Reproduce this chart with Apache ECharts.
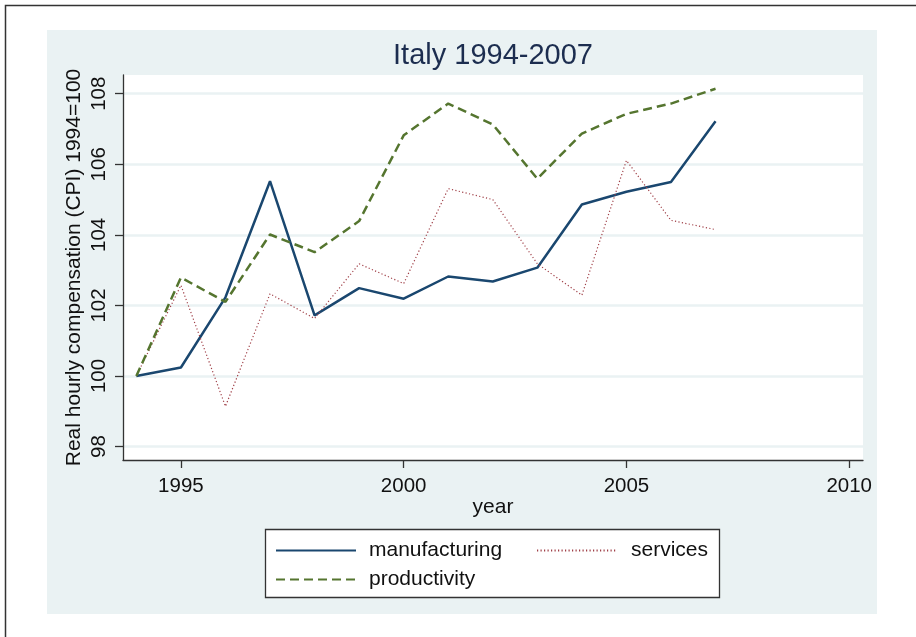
<!DOCTYPE html>
<html>
<head>
<meta charset="utf-8">
<script src="https://cdn.jsdelivr.net/npm/echarts@6/dist/echarts.min.js"></script>
<style>
html,body{margin:0;padding:0;background:#fff;}
#chart{width:916px;height:637px;}
</style>
</head>
<body>
<div id="chart"></div>
<script>
const years = [1994,1995,1996,1997,1998,1999,2000,2001,2002,2003,2004,2005,2006,2007];
const manufacturing = [100,100.24,102.23,105.52,101.72,102.49,102.19,102.82,102.68,103.07,104.86,105.22,105.50,107.22];
const services = [100,102.57,99.14,102.33,101.63,103.18,102.62,105.31,105.00,103.18,102.29,106.11,104.41,104.15];
const productivity = [100,102.79,102.10,104.01,103.51,104.39,106.82,107.72,107.13,105.59,106.87,107.43,107.72,108.14];
const xTicks = [1995,2000,2005,2010];
const yTicks = [98,100,102,104,106,108];

const FONT = '"Liberation Sans", Arial, sans-serif';
const pairs = v => years.map((y,i)=>[y, v[i]]);

const chart = echarts.init(document.getElementById('chart'), null, {renderer:'canvas'});
chart.setOption({
  animation:false,
  backgroundColor:'#ffffff',
  graphic:[
    {type:'rect', z:-10, shape:{x:5.5,y:5.5,width:1200,height:1200}, style:{fill:'#ffffff', stroke:'#333333', lineWidth:1.5}},
    {type:'rect', z:-9, shape:{x:47,y:30,width:830,height:584}, style:{fill:'#eaf2f3'}},
    {type:'text', z:10, x:493, y:56, style:{text:'Italy 1994-2007', fill:'#1c2d4f', font:'29px '+FONT, textAlign:'center', textVerticalAlign:'middle'}},
    {type:'rect', z:5, shape:{x:265.5,y:529.5,width:454,height:68}, style:{fill:'#ffffff', stroke:'#333333', lineWidth:1.3}}
  ],
  grid:{left:123, right:53, top:75, bottom:177, show:true, backgroundColor:'#ffffff', borderWidth:0},
  xAxis:{
    type:'value', min:1993.70, max:2010.31,
    name:'year', nameLocation:'middle', nameGap:37, nameMoveOverlap:false,
    nameTextStyle:{fontFamily:FONT, fontSize:21, color:'#111'},
    axisLine:{show:true, lineStyle:{color:'#333', width:1.3}},
    axisTick:{show:true, length:8, lineStyle:{color:'#333', width:1.3}, customValues:xTicks},
    axisLabel:{fontFamily:FONT, fontSize:20.5, color:'#111', margin:16, customValues:xTicks, formatter:v=>String(v)},
    splitLine:{show:false}
  },
  yAxis:{
    type:'value', min:97.62, max:108.53,
    name:'Real hourly compensation (CPI) 1994=100', nameLocation:'middle', nameGap:38, nameRotate:90, nameMoveOverlap:false,
    nameTextStyle:{fontFamily:FONT, fontSize:21, color:'#111'},
    axisLine:{show:true, lineStyle:{color:'#333', width:1.3}},
    axisTick:{show:true, length:8, lineStyle:{color:'#333', width:1.3}, customValues:yTicks},
    axisLabel:{fontFamily:FONT, fontSize:20.5, color:'#111', margin:13, rotate:90, customValues:yTicks, formatter:v=>String(v)},
    splitLine:{show:true, lineStyle:{color:'#eaf2f3', width:2.5}}
  },
  legend:[
    {data:['manufacturing','productivity'], left:275, top:540, padding:0, orient:'vertical', itemWidth:80, itemHeight:14, itemGap:8, z:10,
     itemStyle:{opacity:0},
     textStyle:{fontFamily:FONT, fontSize:21, color:'#111', padding:[0,0,0,8]}},
    {data:['services'], left:536, top:540, padding:0, orient:'vertical', itemWidth:80, itemHeight:14, z:10,
     itemStyle:{opacity:0},
     textStyle:{fontFamily:FONT, fontSize:21, color:'#111', padding:[0,0,0,9]}}
  ],
  series:[
    {name:'manufacturing', type:'line', data:pairs(manufacturing), symbol:'none', lineStyle:{color:'#1a476f', width:2.5}, itemStyle:{color:'#1a476f'}},
    {name:'services', type:'line', data:pairs(services), symbol:'none', lineStyle:{color:'#a04048', width:1.2, type:[1.2,2.3]}, itemStyle:{color:'#a04048'}},
    {name:'productivity', type:'line', data:pairs(productivity), symbol:'none', lineStyle:{color:'#55752f', width:2.5, type:[9,5]}, itemStyle:{color:'#55752f'}}
  ]
});
</script>
</body>
</html>
